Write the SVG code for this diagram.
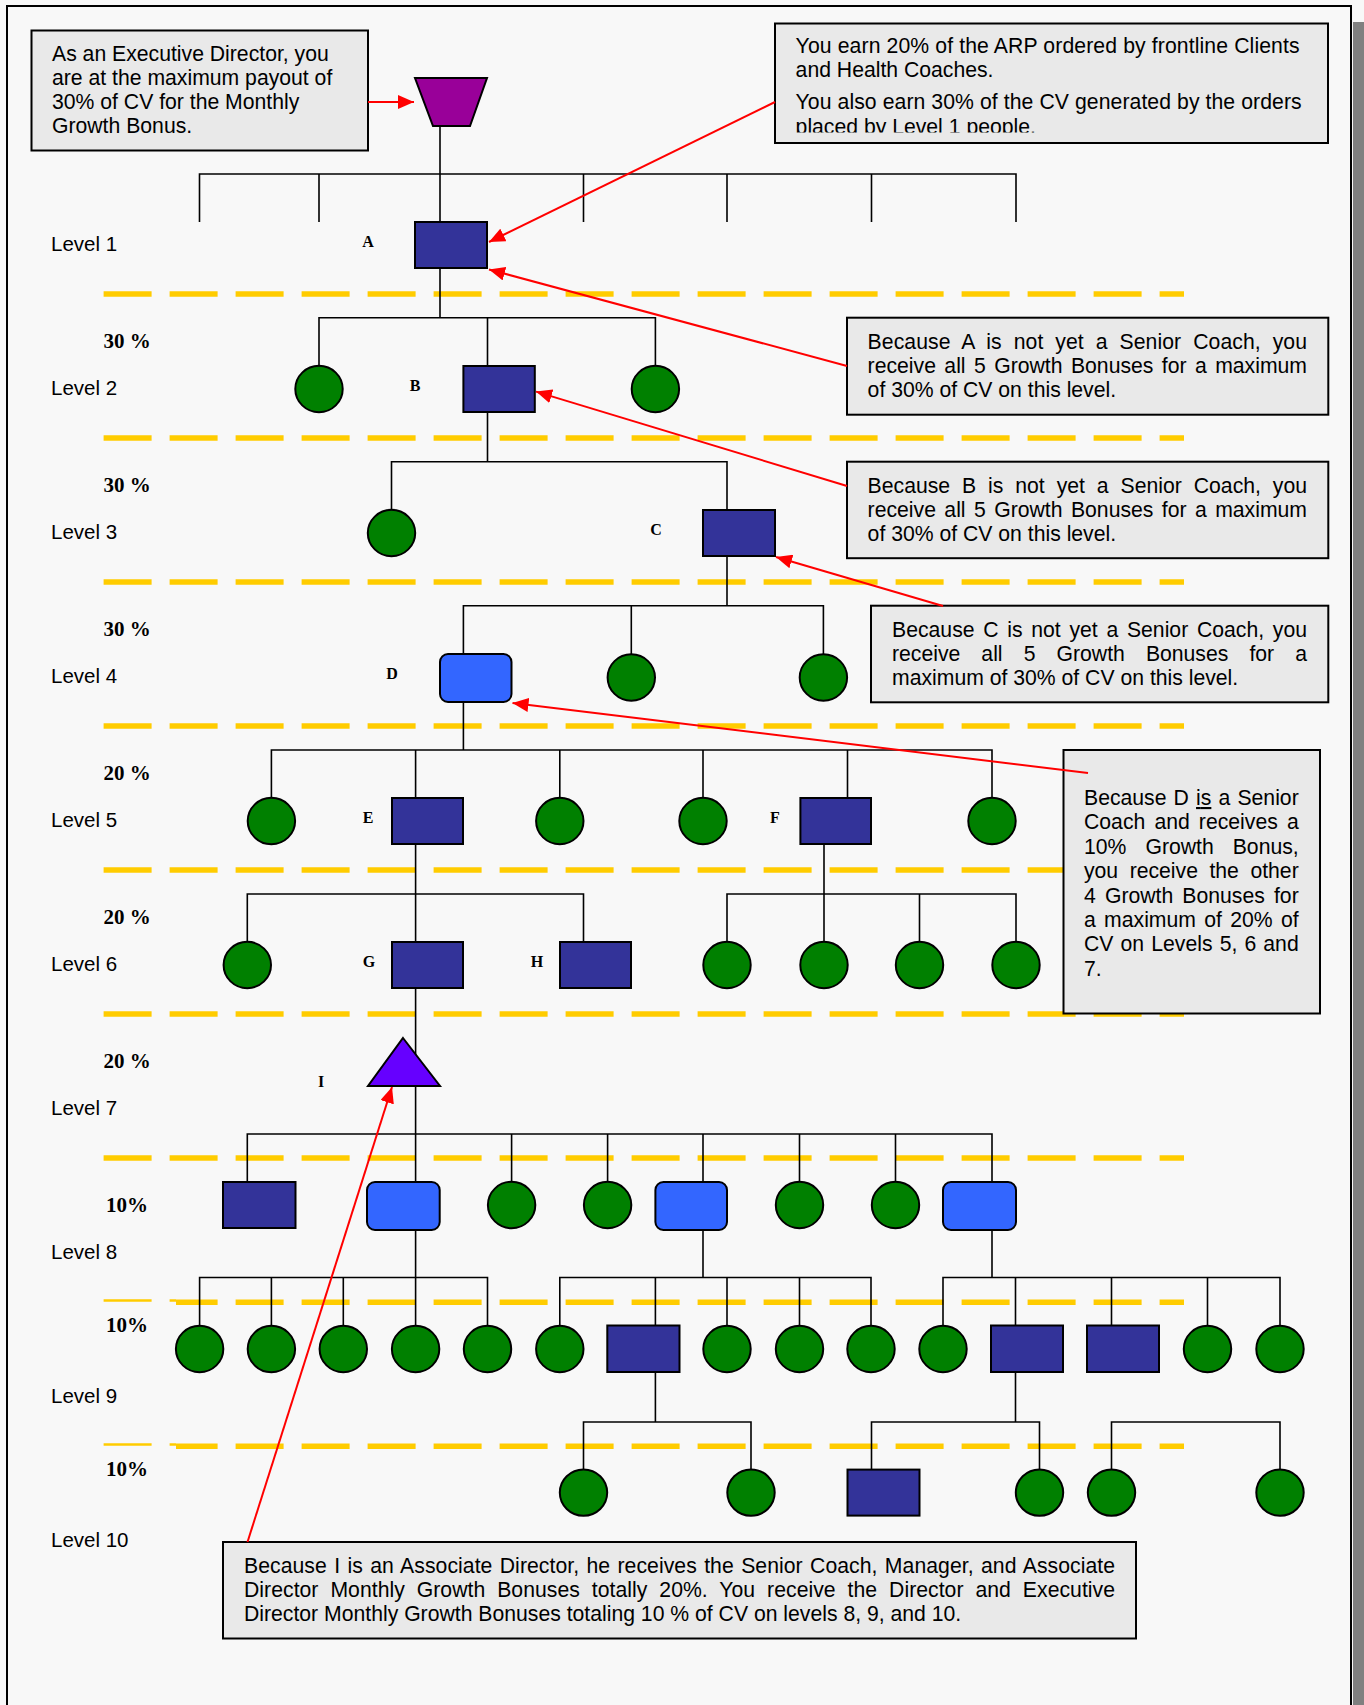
<svg xmlns="http://www.w3.org/2000/svg" width="1364" height="1705" viewBox="0 0 1364 1705">
<style>
.bg{fill:#f8f8f8}
.page{fill:#f8f8f8;stroke:#000;stroke-width:2}
.shadow{fill:#808080}
.dash{stroke:#ffcc00;stroke-width:5.5;stroke-dasharray:48 18;fill:none}
.thin{stroke-width:2.5}
.wire{fill:none;stroke:#000;stroke-width:1.6}
.sq{fill:#333399;stroke:#000;stroke-width:2}
.rd{fill:#3366ff;stroke:#000;stroke-width:2}
.ci{fill:#008000;stroke:#000;stroke-width:2}
.tri{fill:#6600ff;stroke:#000;stroke-width:2;stroke-linejoin:miter}
.trap{fill:#990099;stroke:#000;stroke-width:2}
.note{fill:#e9e9e9;stroke:#000;stroke-width:2}
.t{font-family:"Liberation Sans",Arial,sans-serif;font-size:21.2px;fill:#000}
.lv{font-family:"Liberation Sans",Arial,sans-serif;font-size:20.5px;fill:#000}
.pc{font-family:"Liberation Serif","Times New Roman",serif;font-size:21px;font-weight:bold;fill:#000}
.lb{font-family:"Liberation Serif","Times New Roman",serif;font-size:16px;font-weight:bold;text-anchor:middle;fill:#000}
.arrow{stroke:#ff0000;stroke-width:2;fill:none;marker-end:url(#head)}
</style>
<defs>
  <marker id="head" markerUnits="userSpaceOnUse" markerWidth="16" markerHeight="14" refX="16" refY="7" orient="auto">
    <path d="M0,0 L16,7 L0,14 z" fill="#ff0000"/>
  </marker>
  <clipPath id="clipArp">
    <rect x="776" y="24" width="551" height="108.5"/>
  </clipPath>
</defs>

<!-- sheet -->
<rect class="bg" x="0" y="0" width="1364" height="1705"/>
<rect class="shadow" x="1353" y="22" width="11" height="1683"/>
<rect class="page" x="7" y="6" width="1344" height="1720"/>

<!-- level separators -->
<g id="separators">
  <line class="dash" x1="103.6" y1="294" x2="1184" y2="294"/>
  <line class="dash" x1="103.6" y1="438" x2="1184" y2="438"/>
  <line class="dash" x1="103.6" y1="582" x2="1184" y2="582"/>
  <line class="dash" x1="103.6" y1="726" x2="1184" y2="726"/>
  <line class="dash" x1="103.6" y1="870" x2="1184" y2="870"/>
  <line class="dash" x1="103.6" y1="1014" x2="1184" y2="1014"/>
  <line class="dash" x1="103.6" y1="1158" x2="1184" y2="1158"/>
  <line class="dash thin" x1="103.6" y1="1300.5" x2="176" y2="1300.5"/>
  <line class="dash" x1="176" y1="1302.3" x2="1184" y2="1302.3" style="stroke-dashoffset:6.4"/>
  <line class="dash thin" x1="103.6" y1="1444.5" x2="176" y2="1444.5"/>
  <line class="dash" x1="176" y1="1446.3" x2="1184" y2="1446.3" style="stroke-dashoffset:6.4"/>
</g>

<!-- level captions -->
<g id="levels">
  <text class="lv" x="51" y="251">Level 1</text>
  <text class="lv" x="51" y="395">Level 2</text>
  <text class="lv" x="51" y="539">Level 3</text>
  <text class="lv" x="51" y="683">Level 4</text>
  <text class="lv" x="51" y="827">Level 5</text>
  <text class="lv" x="51" y="971">Level 6</text>
  <text class="lv" x="51" y="1115">Level 7</text>
  <text class="lv" x="51" y="1259">Level 8</text>
  <text class="lv" x="51" y="1403">Level 9</text>
  <text class="lv" x="51" y="1547">Level 10</text>
  <text class="pc" x="103.6" y="348">30 %</text>
  <text class="pc" x="103.6" y="492">30 %</text>
  <text class="pc" x="103.6" y="636">30 %</text>
  <text class="pc" x="103.6" y="780">20 %</text>
  <text class="pc" x="103.6" y="924">20 %</text>
  <text class="pc" x="103.6" y="1068">20 %</text>
  <text class="pc" x="106" y="1212">10%</text>
  <text class="pc" x="106" y="1332">10%</text>
  <text class="pc" x="106" y="1476">10%</text>
</g>

<!-- tree wiring -->
<g id="connectors" class="wire">
  <path d="M440 126 V222"/>
  <path d="M199.5 222 V174 H1016 V222 M319 174 V222 M583.5 174 V222 M727 174 V222 M871.5 174 V222"/>
  <path d="M440 268 V317.7"/>
  <path d="M319 366 V317.7 H655.4 V366 M487.5 317.7 V366"/>
  <path d="M487.5 412 V461.7"/>
  <path d="M391.5 510 V461.7 H727 V510"/>
  <path d="M727 556 V605.7"/>
  <path d="M463.4 654 V605.7 H823.4 V654 M631.3 605.7 V654"/>
  <path d="M463.4 702 V750"/>
  <path d="M271.4 797.7 V750 H992 V797.7 M415.6 750 V797.7 M559.8 750 V797.7 M703 750 V797.7 M847.5 750 V797.7"/>
  <path d="M415.6 844 V941.7"/>
  <path d="M247.3 941.7 V894 H583.5 V941.7"/>
  <path d="M824 844 V941.7"/>
  <path d="M727 941.7 V894 H1016 V941.7 M919.5 894 V941.7"/>
  <path d="M415.6 988 V1182"/>
  <path d="M247.3 1182 V1134 H992 V1182 M511.6 1134 V1182 M607.6 1134 V1182 M703 1134 V1182 M799.5 1134 V1182 M895.5 1134 V1182"/>
  <path d="M415.6 1230 V1325.5"/>
  <path d="M199.6 1325.5 V1277.5 H487.5 V1325.5 M271.4 1277.5 V1325.5 M343.3 1277.5 V1325.5"/>
  <path d="M703 1230 V1277.5"/>
  <path d="M559.8 1325.5 V1277.5 H871 V1325.5 M655.4 1277.5 V1325.5 M727 1277.5 V1325.5 M799.5 1277.5 V1325.5"/>
  <path d="M992 1230 V1277.5"/>
  <path d="M943 1325.5 V1277.5 H1280 V1325.5 M1015.5 1277.5 V1325.5 M1111.5 1277.5 V1325.5 M1207.5 1277.5 V1325.5"/>
  <path d="M655.4 1372 V1422"/>
  <path d="M583.5 1469.4 V1422 H751 V1469.4"/>
  <path d="M1015.5 1372 V1422"/>
  <path d="M871.5 1469.6 V1422 H1039.5 V1469.4"/>
  <path d="M1111.5 1469.4 V1422 H1280 V1469.4"/>
</g>

<!-- people -->
<g id="exec"><polygon class="trap" points="415,78 487,78 470,126 433,126"/></g>
<g id="nodeA"><rect class="sq" x="415" y="222" width="72" height="46"/><text class="lb" x="368" y="247">A</text></g>

<g id="n2a"><ellipse class="ci" cx="319" cy="389" rx="23.7" ry="23.2"/></g>
<g id="nodeB"><rect class="sq" x="463.4" y="366" width="71.4" height="46"/><text class="lb" x="415" y="391">B</text></g>
<g id="n2c"><ellipse class="ci" cx="655.4" cy="389" rx="23.7" ry="23.2"/></g>

<g id="n3a"><ellipse class="ci" cx="391.5" cy="533" rx="23.7" ry="23.2"/></g>
<g id="nodeC"><rect class="sq" x="703" y="510" width="72" height="46"/><text class="lb" x="656" y="535">C</text></g>

<g id="nodeD"><rect class="rd" x="440" y="654" width="71.5" height="48" rx="8"/><text class="lb" x="392" y="679">D</text></g>
<g id="n4b"><ellipse class="ci" cx="631.3" cy="677.5" rx="23.7" ry="23.2"/></g>
<g id="n4c"><ellipse class="ci" cx="823.4" cy="677.5" rx="23.7" ry="23.2"/></g>

<g id="n5a"><ellipse class="ci" cx="271.4" cy="821" rx="23.7" ry="23.2"/></g>
<g id="nodeE"><rect class="sq" x="392" y="798" width="71" height="46"/><text class="lb" x="368" y="823">E</text></g>
<g id="n5c"><ellipse class="ci" cx="559.8" cy="821" rx="23.7" ry="23.2"/></g>
<g id="n5d"><ellipse class="ci" cx="703" cy="821" rx="23.7" ry="23.2"/></g>
<g id="nodeF"><rect class="sq" x="800.4" y="798" width="70.6" height="46"/><text class="lb" x="775" y="823">F</text></g>
<g id="n5f"><ellipse class="ci" cx="992" cy="821" rx="23.7" ry="23.2"/></g>

<g id="n6a"><ellipse class="ci" cx="247.3" cy="965" rx="23.7" ry="23.2"/></g>
<g id="nodeG"><rect class="sq" x="392" y="942" width="71" height="46"/><text class="lb" x="369" y="967">G</text></g>
<g id="nodeH"><rect class="sq" x="560" y="942" width="71" height="46"/><text class="lb" x="537" y="967">H</text></g>
<g id="n6d"><ellipse class="ci" cx="727" cy="965" rx="23.7" ry="23.2"/></g>
<g id="n6e"><ellipse class="ci" cx="824" cy="965" rx="23.7" ry="23.2"/></g>
<g id="n6f"><ellipse class="ci" cx="919.5" cy="965" rx="23.7" ry="23.2"/></g>
<g id="n6g"><ellipse class="ci" cx="1016" cy="965" rx="23.7" ry="23.2"/></g>

<g id="nodeI"><polygon class="tri" points="403,1038 440,1086 368,1086"/><text class="lb" x="321" y="1087">I</text></g>

<g id="n8a"><rect class="sq" x="223" y="1182" width="72.5" height="46"/></g>
<g id="n8b"><rect class="rd" x="367" y="1182" width="72.7" height="48" rx="8"/></g>
<g id="n8c"><ellipse class="ci" cx="511.6" cy="1205" rx="23.7" ry="23.2"/></g>
<g id="n8d"><ellipse class="ci" cx="607.6" cy="1205" rx="23.7" ry="23.2"/></g>
<g id="n8e"><rect class="rd" x="655.4" y="1182" width="71.6" height="48" rx="8"/></g>
<g id="n8f"><ellipse class="ci" cx="799.5" cy="1205" rx="23.7" ry="23.2"/></g>
<g id="n8g"><ellipse class="ci" cx="895.5" cy="1205" rx="23.7" ry="23.2"/></g>
<g id="n8h"><rect class="rd" x="943" y="1182" width="73" height="48" rx="8"/></g>

<g id="n9a"><ellipse class="ci" cx="199.6" cy="1349" rx="23.7" ry="23.2"/></g>
<g id="n9b"><ellipse class="ci" cx="271.4" cy="1349" rx="23.7" ry="23.2"/></g>
<g id="n9c"><ellipse class="ci" cx="343.3" cy="1349" rx="23.7" ry="23.2"/></g>
<g id="n9d"><ellipse class="ci" cx="415.6" cy="1349" rx="23.7" ry="23.2"/></g>
<g id="n9e"><ellipse class="ci" cx="487.5" cy="1349" rx="23.7" ry="23.2"/></g>
<g id="n9f"><ellipse class="ci" cx="559.8" cy="1349" rx="23.7" ry="23.2"/></g>
<g id="n9g"><rect class="sq" x="607.3" y="1325.5" width="72.2" height="46.5"/></g>
<g id="n9h"><ellipse class="ci" cx="727" cy="1349" rx="23.7" ry="23.2"/></g>
<g id="n9i"><ellipse class="ci" cx="799.5" cy="1349" rx="23.7" ry="23.2"/></g>
<g id="n9j"><ellipse class="ci" cx="871" cy="1349" rx="23.7" ry="23.2"/></g>
<g id="n9k"><ellipse class="ci" cx="943" cy="1349" rx="23.7" ry="23.2"/></g>
<g id="n9l"><rect class="sq" x="991" y="1325.5" width="72" height="46.5"/></g>
<g id="n9m"><rect class="sq" x="1087" y="1325.5" width="72" height="46.5"/></g>
<g id="n9n"><ellipse class="ci" cx="1207.5" cy="1349" rx="23.7" ry="23.2"/></g>
<g id="n9o"><ellipse class="ci" cx="1280" cy="1349" rx="23.7" ry="23.2"/></g>

<g id="n10a"><ellipse class="ci" cx="583.5" cy="1492.6" rx="23.7" ry="23.2"/></g>
<g id="n10b"><ellipse class="ci" cx="751" cy="1492.6" rx="23.7" ry="23.2"/></g>
<g id="n10c"><rect class="sq" x="847.5" y="1469.6" width="72" height="46"/></g>
<g id="n10d"><ellipse class="ci" cx="1039.5" cy="1492.6" rx="23.7" ry="23.2"/></g>
<g id="n10e"><ellipse class="ci" cx="1111.5" cy="1492.6" rx="23.7" ry="23.2"/></g>
<g id="n10f"><ellipse class="ci" cx="1280" cy="1492.6" rx="23.7" ry="23.2"/></g>

<!-- explanation boxes -->
<g id="noteExec">
  <rect class="note" x="31.5" y="30.5" width="336.5" height="120"/>
  <text class="t" x="52" y="61">As an Executive Director, you</text>
  <text class="t" x="52" y="85">are at the maximum payout of</text>
  <text class="t" x="52" y="109">30% of CV for the Monthly</text>
  <text class="t" x="52" y="133">Growth Bonus.</text>
</g>
<g id="noteArp">
  <rect class="note" x="775" y="23.5" width="553" height="119.5"/>
  <g clip-path="url(#clipArp)">
    <text class="t" x="795.6" y="53" textLength="504">You earn 20% of the ARP ordered by frontline Clients</text>
    <text class="t" x="795.6" y="77">and Health Coaches.</text>
    <text class="t" x="795.6" y="109" textLength="506">You also earn 30% of the CV generated by the orders</text>
    <text class="t" x="795.6" y="133.5">placed by Level 1 people.</text>
  </g>
</g>
<g id="noteA">
  <rect class="note" x="847" y="317.7" width="481.3" height="97"/>
  <text class="t" x="867.6" y="349" word-spacing="6" textLength="439.4">Because A is not yet a Senior Coach, you</text>
  <text class="t" x="867.6" y="373" word-spacing="2.5" textLength="439.4">receive all 5 Growth Bonuses for a maximum</text>
  <text class="t" x="867.6" y="397">of 30% of CV on this level.</text>
</g>
<g id="noteB">
  <rect class="note" x="847" y="461.7" width="481.3" height="96.5"/>
  <text class="t" x="867.6" y="493" word-spacing="6" textLength="439.4">Because B is not yet a Senior Coach, you</text>
  <text class="t" x="867.6" y="517" word-spacing="2.5" textLength="439.4">receive all 5 Growth Bonuses for a maximum</text>
  <text class="t" x="867.6" y="541">of 30% of CV on this level.</text>
</g>
<g id="noteC">
  <rect class="note" x="871" y="605.7" width="457.3" height="96.6"/>
  <text class="t" x="892" y="637" word-spacing="2.8" textLength="415">Because C is not yet a Senior Coach, you</text>
  <text class="t" x="892" y="661" word-spacing="15.2" textLength="415">receive all 5 Growth Bonuses for a</text>
  <text class="t" x="892" y="685">maximum of 30% of CV on this level.</text>
</g>
<g id="noteD">
  <rect class="note" x="1063.5" y="750" width="256.5" height="263.5"/>
  <text class="t" x="1084" y="805" word-spacing="1.25" textLength="214.7">Because D <tspan text-decoration="underline">is</tspan> a Senior</text>
  <text class="t" x="1084" y="829.4" word-spacing="3.2" textLength="214.7">Coach and receives a</text>
  <text class="t" x="1084" y="853.8" word-spacing="13.1" textLength="214.7">10% Growth Bonus,</text>
  <text class="t" x="1084" y="878.2" word-spacing="5.6" textLength="214.7">you receive the other</text>
  <text class="t" x="1084" y="902.6" word-spacing="3.2" textLength="214.7">4 Growth Bonuses for</text>
  <text class="t" x="1084" y="927" word-spacing="2.4" textLength="214.7">a maximum of 20% of</text>
  <text class="t" x="1084" y="951.4" word-spacing="1.2" textLength="214.7">CV on Levels 5, 6 and</text>
  <text class="t" x="1084" y="975.8">7.</text>
</g>
<g id="noteI">
  <rect class="note" x="223" y="1542" width="913" height="96.5"/>
  <text class="t" x="244" y="1573" word-spacing="1.4" textLength="871">Because I is an Associate Director, he receives the Senior Coach, Manager, and Associate</text>
  <text class="t" x="244" y="1597" word-spacing="6" textLength="871">Director Monthly Growth Bonuses totally 20%. You receive the Director and Executive</text>
  <text class="t" x="244" y="1621">Director Monthly Growth Bonuses totaling 10 % of CV on levels 8, 9, and 10.</text>
</g>

<!-- pointers from the notes -->
<g id="pointers">
  <line class="arrow" x1="368" y1="102" x2="414" y2="102"/>
  <line class="arrow" x1="775" y1="102" x2="489" y2="242"/>
  <line class="arrow" x1="847" y1="366" x2="489" y2="269.5"/>
  <line class="arrow" x1="847" y1="486" x2="536" y2="391.6"/>
  <line class="arrow" x1="943" y1="606" x2="776" y2="557"/>
  <line class="arrow" x1="1088" y1="773" x2="512.5" y2="703"/>
  <line class="arrow" x1="247.5" y1="1542" x2="392" y2="1087"/>
</g>
</svg>
